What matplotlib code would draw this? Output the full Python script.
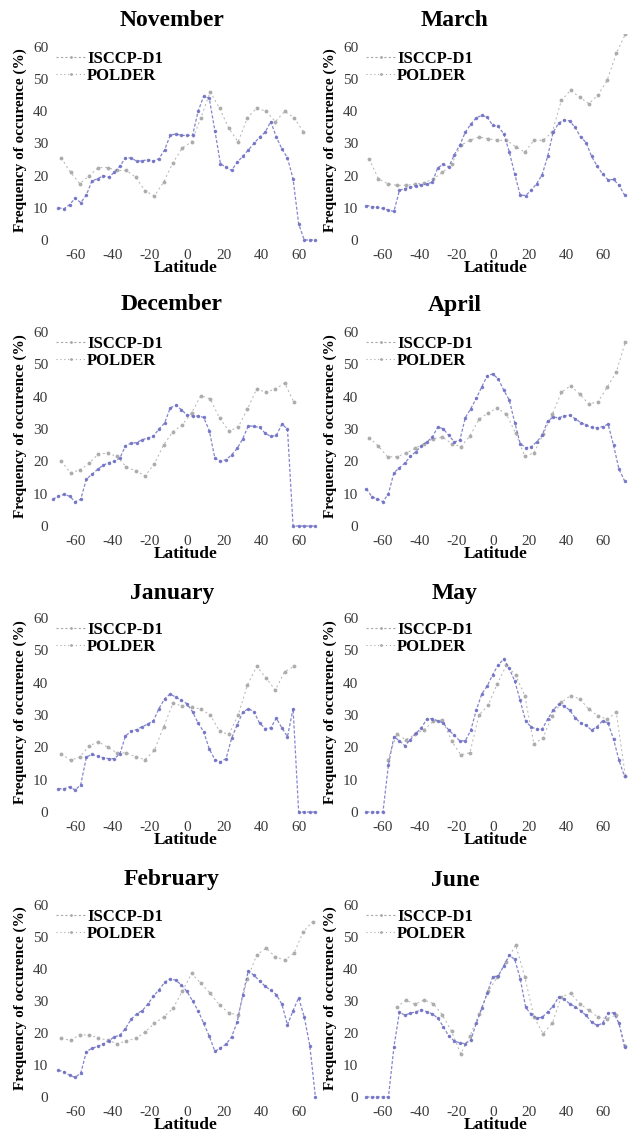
import numpy as np
import matplotlib
matplotlib.use('Agg')
import matplotlib.pyplot as plt
from matplotlib.lines import Line2D

plt.rcParams['font.family'] = ['Liberation Serif', 'DejaVu Serif']
plt.rcParams['axes.unicode_minus'] = False

N = np.nan

lat_polder = [-72, -69, -66, -63, -60, -57, -54, -51, -48, -45, -42, -39, -36, -33,
              -30, -27, -24, -21, -18, -15, -12, -9, -6, -3, 0, 3, 6, 9, 12, 15, 18,
              21, 24, 27, 30, 33, 36, 39, 42, 45, 48, 51, 54, 57, 60, 63, 66, 69, 72]
lat_isccp = [-67.5, -62.5, -57.5, -52.5, -47.5, -42.5, -37.5, -32.5, -27.5, -22.5,
             -17.5, -12.5, -7.5, -2.5, 2.5, 7.5, 12.5, 17.5, 22.5, 27.5, 32.5, 37.5,
             42.5, 47.5, 52.5, 57.5, 62.5, 67.5, 72.5]

# ---- November ----
nov_polder = [N, 10, 9.7, 11, 13, 11.6, 14, 18.4, 19, 20, 19.5, 21, 23, 25.5,
              25.5, 24.5, 24.6, 25, 24.5, 25.3, 28, 32.5, 33, 32.5, 32.5, 32.5, 40, 44.7, 44, 34, 23.7,
              22.6, 21.6, 24.2, 26, 28, 30, 32, 33.5, 36.8, 32, 28.3, 25.5, 19, 5, 0, 0, 0, N]
nov_isccp = [25.5, 21, 17.5, 20, 22.5, 22.5, 21.6, 21.6, 19.5, 15.3,
             13.7, 18, 24, 28.6, 30.5, 38, 46, 41, 34.7, 30.5, 38, 41,
             40, 36.8, 40, 38, 33.7, N, N]
# ---- December ----
dec_polder = [8.3, 9.2, 9.8, 9.2, 7.5, 8.3, 14.5, 16, 17.5, 18.8, 19.6, 20, 21, 24.8,
              25.6, 25.8, 26.7, 27.2, 27.8, 30, 31.8, 36.5, 37.3, 36, 34.3, 34, 34, 33.6, 29.5, 21, 20,
              20.5, 22, 24, 27, 31, 30.8, 30.5, 28.7, 27.7, 28, 31.5, 30, 0, 0, 0, 0, 0, N]
dec_isccp = [20, 16.5, 17.3, 19.4, 22.3, 22.5, 21.5, 18.2, 17.1, 15.5,
             19.2, 25.1, 29.2, 31.3, 35, 40.3, 39.3, 33.4, 29.4, 30.5, 36.2, 42.4,
             41.3, 42.4, 44.2, 38.2, N, N, N]
# ---- January ----
jan_polder = [N, 7.2, 7.2, 7.8, 6.8, 8.5, 17, 17.8, 17.3, 16.8, 16.5, 16.5, 18, 23.5,
              25, 25.5, 26.4, 27.2, 28.2, 32, 35, 36.5, 35.5, 34.5, 33.5, 31, 27.5, 24.8, 19.5, 16.2, 15.5,
              16.5, 22.8, 27, 30.8, 32, 31, 27.5, 25.8, 26, 29, 26, 23.3, 32, 0, 0, 0, 0, N]
jan_isccp = [18, 16, 17, 20.5, 21.7, 20, 18.3, 18.3, 17, 16.2,
             19.1, 26.4, 33.6, 32.8, 32.5, 31.8, 30, 25, 24, 30, 39.3, 45,
             41.4, 37.7, 43.4, 45, N, N, N]
# ---- February ----
feb_polder = [N, 8.4, 7.8, 6.8, 6.1, 7.5, 14.2, 15.2, 15.8, 16.6, 17.5, 18.8, 19.3, 21.4,
              24.3, 26, 27, 29, 31.5, 33.5, 35.8, 37, 36.5, 35, 33, 30, 27, 23, 19, 14.3, 15.3,
              16.5, 18.8, 23.5, 32, 39.5, 38, 36.3, 34.6, 33.4, 32, 29, 22.5, 27, 31, 25, 16, 0, N]
feb_isccp = [18.3, 17.7, 19.5, 19.3, 18.5, 17.7, 16.7, 17.5, 18.3, 20.3,
             23, 25, 27.7, 33, 38.6, 35.5, 32.4, 28.7, 26.3, 25.6, 37, 44.4,
             46.5, 43.8, 42.8, 44.9, 51.7, 54.8, N]
# ---- March ----
mar_polder = [N, 10.7, 10.4, 10.1, 9.8, 9.2, 8.9, 15.4, 16, 16.4, 16.8, 17.2, 17.4, 18,
              22.5, 23.5, 22.7, 26.5, 29.5, 33.5, 36, 38, 38.7, 38.2, 35.6, 35.3, 33, 27.5, 20.5, 14, 13.8,
              15.5, 17.5, 20.3, 26, 33.5, 36.3, 37.3, 37, 35, 32, 30.3, 26, 23, 20.5, 18.7, 18.8, 17, 14]
mar_isccp = [25.2, 19, 17.5, 17, 17, 17.3, 17.8, 19, 21, 23.5,
             29.4, 31, 32, 31.5, 31, 31, 29, 27.3, 31, 31, 33.5, 43.4,
             46.5, 44.4, 42.4, 45, 49.6, 58, 64]
# ---- April ----
apr_polder = [N, 11.5, 9, 8.4, 7.5, 10, 16.5, 18, 19.5, 21.5, 23, 24.8, 26, 27.5,
              30.7, 30, 28, 26, 26.5, 33.5, 36.3, 39.5, 43, 46.5, 47, 45.5, 42, 39, 32, 25.5, 24.2,
              24.5, 26, 28, 32.5, 33.6, 33.5, 34, 34.2, 33.2, 32, 31.2, 30.5, 30.4, 30.7, 31.5, 25, 17.5, 14]
apr_isccp = [27.3, 24.7, 21.4, 21.4, 22.5, 24, 25.5, 27, 27.5, 25.5,
             24.5, 27.8, 33, 35, 36.5, 34.5, 28.7, 21.6, 22.6, 28.3, 34.5, 41.3,
             43.4, 40.8, 37.7, 38.4, 42.9, 47.6, 57]
# ---- May ----
may_polder = [N, 0, 0, 0, 0, 14.6, 23.3, 22, 20.5, 22.4, 24.3, 26, 28.8, 28.9,
              28.2, 27.5, 25.3, 23.7, 22, 22, 25.3, 31.5, 36.5, 39, 42.5, 45.5, 47.3, 44.4, 40.5, 34.5, 28,
              26.3, 25.6, 25.6, 28.7, 31.5, 33.3, 32.8, 31.5, 29.2, 27.5, 26.8, 25.3, 26.4, 28.2, 27.5, 22.5, 16, 11]
may_isccp = [N, N, 16, 24, 22.4, 24, 25.5, 28, 28.5, 22,
             17.7, 18.3, 30, 33, 39.7, 45.4, 42.3, 36, 21, 23, 29.7, 33.9,
             36, 35, 31.8, 29.7, 28.7, 30.8, 11]
# ---- June ----
jun_polder = [N, 0, 0, 0, 0, 0, 15.7, 26.5, 25.6, 26.2, 26.6, 27.3, 26.6, 26,
              24.6, 22, 19, 17.5, 16.9, 16.7, 17.8, 23, 27.7, 32.5, 37.6, 37.8, 41, 44.3, 43, 37, 28,
              25.8, 24.7, 24.9, 26.6, 28.4, 31.2, 30.5, 29.2, 28.2, 27, 25.5, 23.4, 22.4, 23, 26.3, 26.3, 23, 15.7]
jun_isccp = [N, N, N, 28, 30.3, 29, 30.3, 29.2, 25.6, 20.5,
             13.5, 19, 26, 33, 37.5, 42.3, 47.5, 37.6, 25, 19.8, 23, 31.3,
             32.4, 29.2, 27.1, 25, 24.5, 25.6, 16]

left_months = ['November', 'December', 'January', 'February']
right_months = ['March', 'April', 'May', 'June']
left_data = [(nov_polder, nov_isccp), (dec_polder, dec_isccp),
             (jan_polder, jan_isccp), (feb_polder, feb_isccp)]
right_data = [(mar_polder, mar_isccp), (apr_polder, apr_isccp),
              (may_polder, may_isccp), (jun_polder, jun_isccp)]

W, H = 633, 1136
fig = plt.figure(figsize=(W / 100, H / 100), dpi=100)

row_px = [(34.1, 246.4), (319.0, 532.5), (605.0, 818.5), (892.2, 1103.4)]
title_px = [20, 305, 593, 880]
col_px = [(51, 321), (361, 630)]
col_xlim = [(-73, 72), (-72, 75)]
col_title_x = [172, 455]

POL_C = '#6f70c4'
ISC_C = '#a9a9a9'

def draw(ax, polder, isccp):
    ax.plot(lat_isccp, isccp, color=ISC_C, lw=0.7, ls=(0, (2, 3)),
            marker='o', ms=1.8, mec=ISC_C, mfc=ISC_C, alpha=0.9)
    ax.plot(lat_polder, polder, color=POL_C, lw=0.9, ls=(0, (2.5, 1.5)),
            marker='.', ms=3.0, mec=POL_C, mfc=POL_C, alpha=0.85)

for c, (months, data) in enumerate([(left_months, left_data), (right_months, right_data)]):
    x0, x1 = col_px[c]
    for r in range(4):
        top, bot = row_px[r]
        ax = fig.add_axes([x0 / W, 1 - bot / H, (x1 - x0) / W, (bot - top) / H])
        polder, isccp = data[r]
        draw(ax, polder, isccp)
        ax.set_xlim(*col_xlim[c])
        ax.set_ylim(-2, 64)
        ax.set_xticks([-60, -40, -20, 0, 20, 40, 60])
        ax.set_yticks([0, 10, 20, 30, 40, 50, 60])
        for s in ax.spines.values():
            s.set_visible(False)
        ax.tick_params(length=0, labelsize=11, labelcolor='#3a3a3a', pad=2)
        ax.set_xlabel('Latitude', fontsize=12.5, fontweight='bold')
        ax.xaxis.set_label_coords(0.5, -0.065)
        ax.set_ylabel('Frequency of occurence (%)', fontsize=11, fontweight='bold')
        ax.yaxis.set_label_coords(-0.088, 0.5)
        handles = [Line2D([], [], color=ISC_C, lw=0.8, ls=(0, (2, 2)), marker='.', ms=2),
                   Line2D([], [], color=ISC_C, lw=0.8, ls=(0, (1, 2.5)), marker='.', ms=2)]
        leg = ax.legend(handles, ['ISCCP-D1', 'POLDER'], loc='upper left',
                        bbox_to_anchor=(0.02, 0.92), frameon=False,
                        prop={'weight': 'bold', 'size': 12}, handlelength=1.7,
                        handletextpad=0.15, borderpad=0, borderaxespad=0,
                        labelspacing=0.05)
        fig.text(col_title_x[c] / W, 1 - title_px[r] / H, months[r],
                 ha='center', va='center', fontsize=17, fontweight='bold')

fig.savefig('out.png', dpi=100)
